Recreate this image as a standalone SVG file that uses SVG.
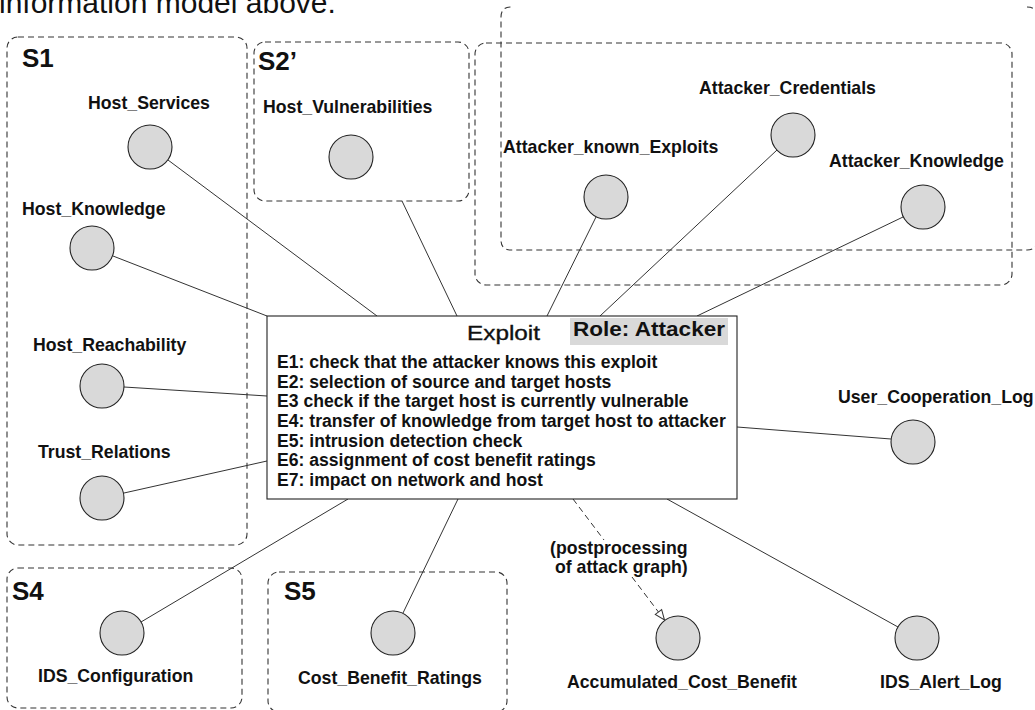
<svg xmlns="http://www.w3.org/2000/svg" width="1035" height="710" viewBox="0 0 1035 710">
<defs>
<style>
.grp{fill:none;stroke:#333;stroke-width:1.1;stroke-dasharray:6 4}
.ln{fill:none;stroke:#333;stroke-width:1}
.dash{fill:none;stroke:#333;stroke-width:1;stroke-dasharray:6 4}
.nd{fill:#d9d9d9;stroke:#222;stroke-width:1.1}
.lbl{font-family:"Liberation Sans",Arial,sans-serif;font-weight:bold;font-size:17.7px;fill:#111}
.glbl{font-family:"Liberation Sans",Arial,sans-serif;font-weight:bold;font-size:26px;fill:#111}
.ex{font-family:"Liberation Sans",Arial,sans-serif;font-weight:bold;font-size:17.6px;fill:#111}
.hd{font-family:"Liberation Sans",Arial,sans-serif;font-size:21px;fill:#111}
.hdb{font-family:"Liberation Sans",Arial,sans-serif;font-weight:bold;font-size:20px;fill:#111}
</style>
<marker id="openArrow" viewBox="0 0 12 10" refX="11" refY="5" markerWidth="12" markerHeight="10" markerUnits="userSpaceOnUse" orient="auto">
<path d="M1,1 L11,5 L1,9 Z" fill="#fff" stroke="#333" stroke-width="1"/>
</marker>
</defs>
<rect width="1035" height="710" fill="#fff"/>
<text x="-1" y="13" style="font-family:'Liberation Sans',Arial,sans-serif;font-size:30px;fill:#111">information model above.</text>

<g id="group-S1">
<rect class="grp" x="7" y="37" width="240" height="508" rx="11"/>
<text class="glbl" x="22" y="67">S1</text>
</g>
<g id="group-S2">
<rect class="grp" x="254" y="42" width="215" height="159" rx="11"/>
<text class="glbl" x="258" y="70">S2’</text>
</g>
<g id="group-attacker-outer">
<path class="grp" d="M1027 7 Q1037 7 1037 17 L1037 240 Q1037 250 1027 250 L511 250 Q501 250 501 240 L501 17 Q501 7 511 7"/>
</g>
<g id="group-attacker-inner">
<rect class="grp" x="475" y="43" width="537" height="242" rx="11"/>
</g>
<g id="group-S4">
<rect class="grp" x="7" y="568" width="235" height="140" rx="11"/>
<text class="glbl" x="12" y="600">S4</text>
</g>
<g id="group-S5">
<rect class="grp" x="268" y="572" width="239" height="140" rx="11"/>
<text class="glbl" x="284" y="600">S5</text>
</g>

<g id="connectors">
<line class="ln" x1="168" y1="160" x2="377" y2="316"/>
<line class="ln" x1="113" y1="256" x2="267" y2="316"/>
<line class="ln" x1="124" y1="387" x2="267" y2="396"/>
<line class="ln" x1="124" y1="493" x2="267" y2="461"/>
<line class="ln" x1="402" y1="201" x2="457" y2="316"/>
<line class="ln" x1="596" y1="217" x2="547" y2="316"/>
<line class="ln" x1="777" y1="150" x2="600" y2="316"/>
<line class="ln" x1="903" y1="217" x2="697" y2="316"/>
<line class="ln" x1="737" y1="427" x2="891" y2="439"/>
<line class="ln" x1="667" y1="499" x2="898" y2="627"/>
<line class="ln" x1="141" y1="622" x2="348" y2="499"/>
<line class="ln" x1="403" y1="613" x2="458" y2="499"/>
<line class="dash" x1="573" y1="499" x2="604" y2="540"/>
<line class="dash" x1="632" y1="577" x2="664.5" y2="620" marker-end="url(#openArrow)"/>
<text class="lbl" x="550" y="554">(postprocessing</text>
<text class="lbl" x="555" y="573">of attack graph)</text>
</g>

<g id="exploit">
<rect x="267" y="316" width="470" height="183" fill="#fff" stroke="#222" stroke-width="1.1"/>
<rect x="570" y="318" width="158" height="27" fill="#d9d9d9"/>
<text class="hd" x="467" y="340" textLength="73" lengthAdjust="spacingAndGlyphs" style="stroke:#111;stroke-width:0.35">Exploit</text>
<text class="hdb" x="573" y="336" textLength="152" lengthAdjust="spacingAndGlyphs">Role: Attacker</text>
<text class="ex" x="277" y="368">E1: check that the attacker knows this exploit</text>
<text class="ex" x="277" y="387.7">E2: selection of source and target hosts</text>
<text class="ex" x="277" y="407.3">E3 check if the target host is currently vulnerable</text>
<text class="ex" x="277" y="427">E4: transfer of knowledge from target host to attacker</text>
<text class="ex" x="277" y="446.7">E5: intrusion detection check</text>
<text class="ex" x="277" y="466.3">E6: assignment of cost benefit ratings</text>
<text class="ex" x="277" y="486">E7: impact on network and host</text>
</g>

<g id="Host_Services"><circle class="nd" cx="150" cy="147" r="22"/><text class="lbl" x="88" y="109">Host_Services</text></g>
<g id="Host_Knowledge"><circle class="nd" cx="92" cy="248" r="22"/><text class="lbl" x="22" y="215">Host_Knowledge</text></g>
<g id="Host_Reachability"><circle class="nd" cx="102" cy="386" r="22"/><text class="lbl" x="33" y="351">Host_Reachability</text></g>
<g id="Trust_Relations"><circle class="nd" cx="102" cy="498" r="22"/><text class="lbl" x="38" y="458">Trust_Relations</text></g>
<g id="Host_Vulnerabilities"><circle class="nd" cx="351" cy="157" r="22"/><text class="lbl" x="263" y="113">Host_Vulnerabilities</text></g>
<g id="Attacker_known_Exploits"><circle class="nd" cx="606" cy="197" r="22"/><text class="lbl" x="503" y="153">Attacker_known_Exploits</text></g>
<g id="Attacker_Credentials"><circle class="nd" cx="793" cy="135" r="22"/><text class="lbl" x="699" y="94">Attacker_Credentials</text></g>
<g id="Attacker_Knowledge"><circle class="nd" cx="923" cy="207" r="22"/><text class="lbl" x="829" y="167">Attacker_Knowledge</text></g>
<g id="User_Cooperation_Log"><circle class="nd" cx="913" cy="442" r="22"/><text class="lbl" x="838" y="403">User_Cooperation_Log</text></g>
<g id="IDS_Alert_Log"><circle class="nd" cx="917" cy="638" r="22"/><text class="lbl" x="880" y="688">IDS_Alert_Log</text></g>
<g id="Accumulated_Cost_Benefit"><circle class="nd" cx="678" cy="638" r="22"/><text class="lbl" x="567" y="688">Accumulated_Cost_Benefit</text></g>
<g id="Cost_Benefit_Ratings"><circle class="nd" cx="393" cy="633" r="22"/><text class="lbl" x="298" y="684">Cost_Benefit_Ratings</text></g>
<g id="IDS_Configuration"><circle class="nd" cx="122" cy="633" r="22"/><text class="lbl" x="38" y="682">IDS_Configuration</text></g>
</svg>
